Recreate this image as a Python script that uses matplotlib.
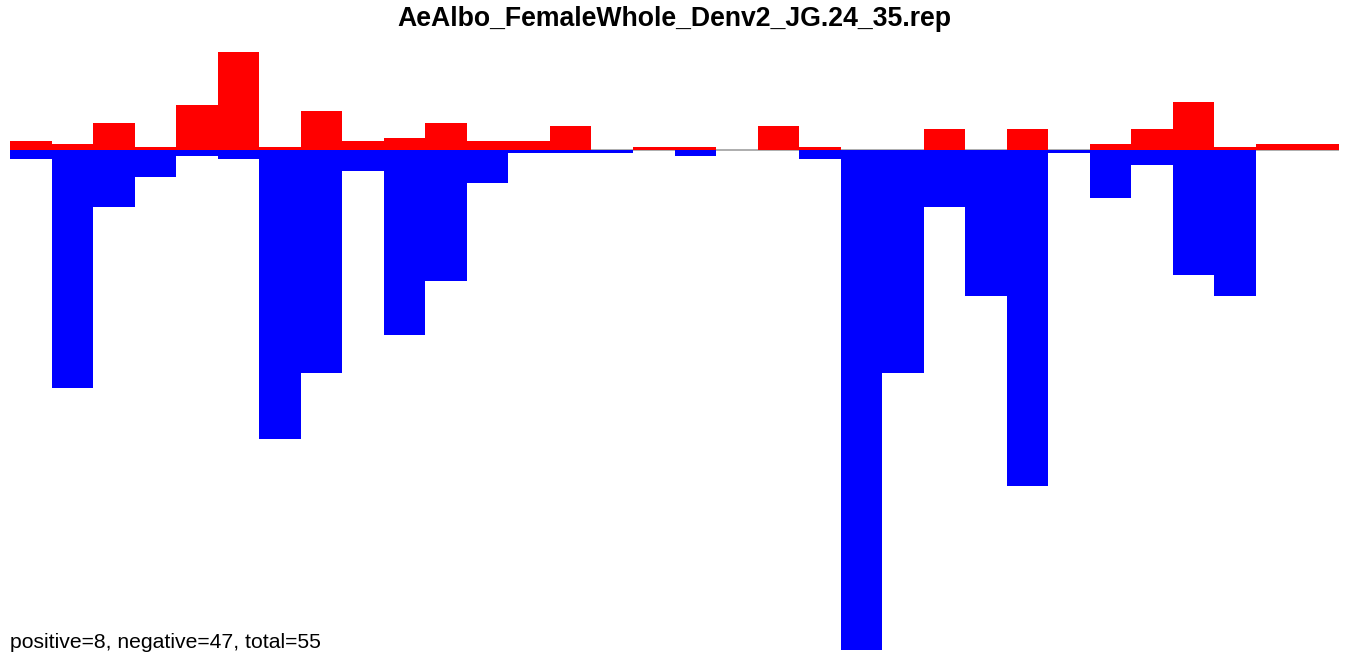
import matplotlib
matplotlib.use("Agg")
import matplotlib.pyplot as plt
import numpy as np

title = "AeAlbo_FemaleWhole_Denv2_JG.24_35.rep"
summary = "positive=8, negative=47, total=55"

positive = [3, 2, 9, 1, 15, 32.7, 1, 13, 3, 4, 9, 3, 3, 8, 0, 1,
            1, 0, 8, 1, 0, 0, 7, 0, 7, 0, 2, 7, 16, 1, 2, 2]
negative = [3, 79.3, 19, 9, 2, 3, 96.3, 74.3, 7, 61.7, 43.7, 11, 1, 1, 1, 0,
            2, 0, 0, 3, 166.7, 74.3, 19, 48.7, 112, 1, 16, 5, 41.7, 48.7, 0, 0]

W, H = 1350, 655
fig = plt.figure(figsize=(W / 100, H / 100), dpi=100)
left, right, top, bottom = 10, 1339, 52, 650
ax = fig.add_axes([left / W, 1 - bottom / H, (right - left) / W, (bottom - top) / H])

n = len(positive)
x = np.arange(n)
ax.axhline(0, color="#A0A0A0", lw=1.2, zorder=1)
ax.bar(x, positive, width=1.0, align="edge", color="#FF0000", linewidth=0, zorder=2)
ax.bar(x, -np.array(negative), width=1.0, align="edge", color="#0000FF", linewidth=0, zorder=3)
ax.set_xlim(0, n)
ax.set_ylim(-max(negative), max(positive))
ax.axis("off")

fig.text(674 / W, 1 - 19.5 / H, title, ha="center", va="center",
         fontsize=19.2, fontweight="bold", family=["Liberation Sans", "DejaVu Sans"])
fig.text(left / W, 1 - 642 / H, summary, ha="left", va="center",
         fontsize=15.2, family=["Liberation Sans", "DejaVu Sans"])

fig.savefig("out.png", dpi=100, facecolor="white")
